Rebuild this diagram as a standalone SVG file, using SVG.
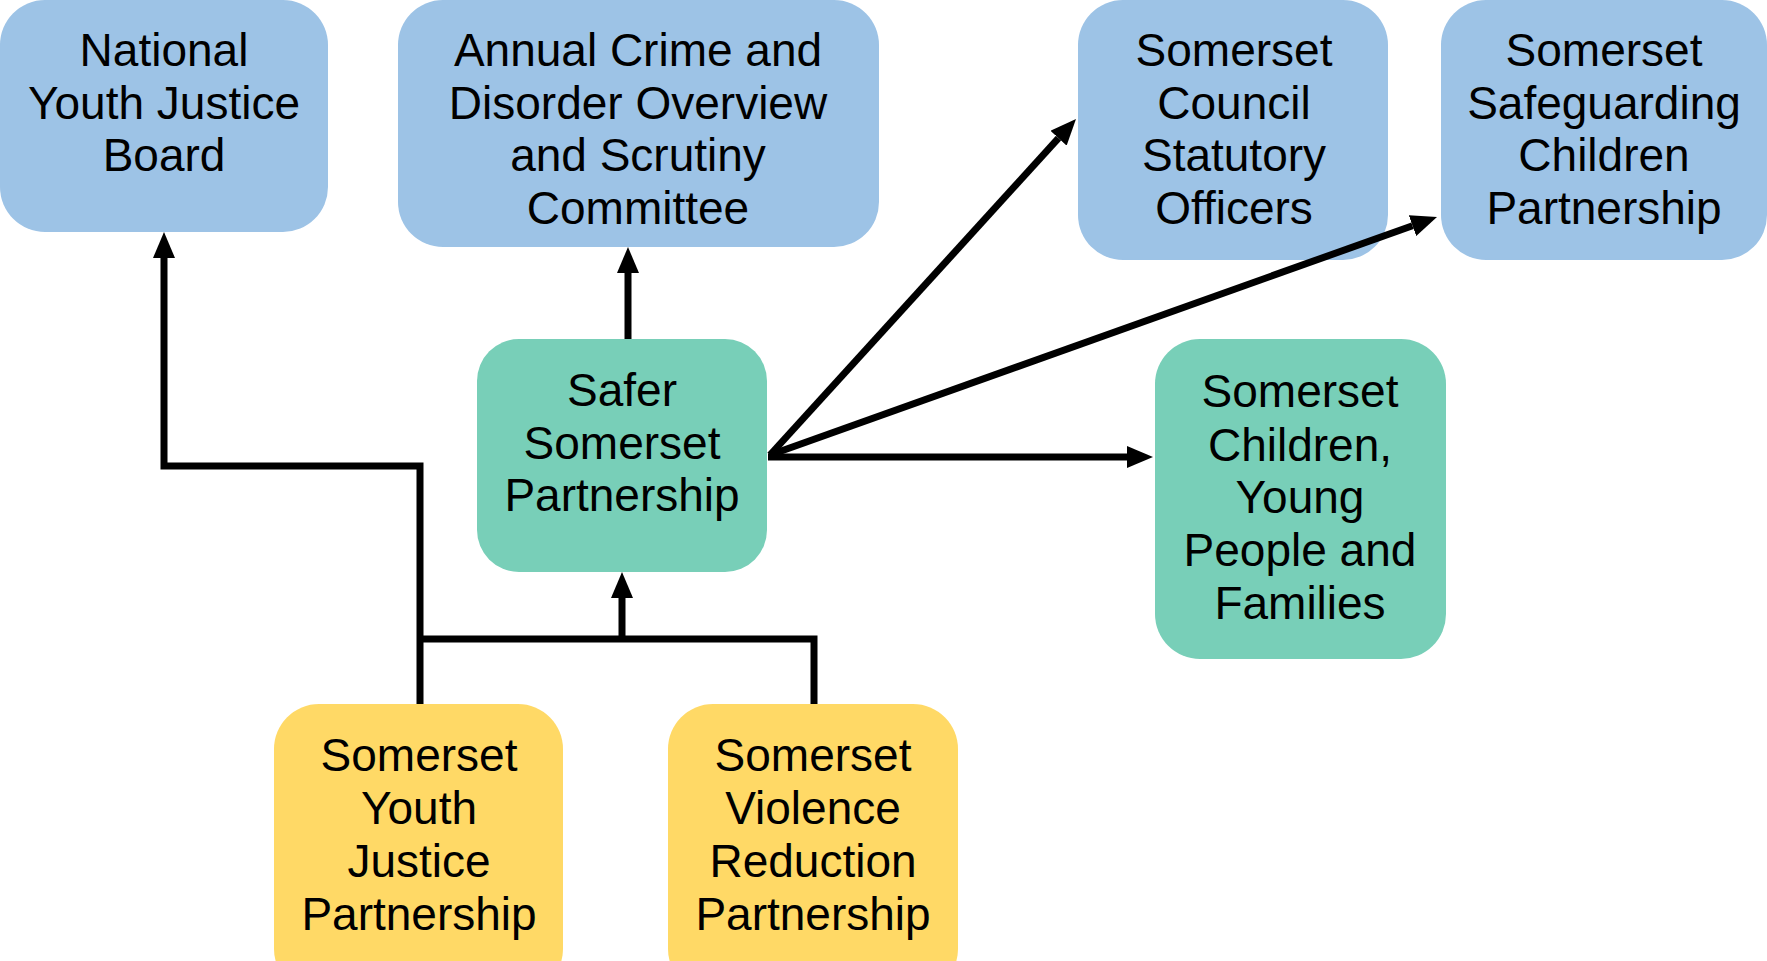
<svg xmlns="http://www.w3.org/2000/svg" width="1767" height="961" viewBox="0 0 1767 961">
<style>
.blue{fill:#9DC3E6}
.green{fill:#78CFB8}
.yellow{fill:#FFD966}
.t{font-family:"Liberation Sans",Arial,sans-serif;font-size:46px;fill:#000;text-anchor:middle}
.c{fill:none;stroke:#000;stroke-width:7;stroke-linejoin:miter}
</style>
<defs>
<marker id="ah" markerUnits="userSpaceOnUse" markerWidth="26" markerHeight="22" refX="0" refY="11" orient="auto" viewBox="0 0 26 22">
<path d="M0,0 L26,11 L0,22 z" fill="#000"/>
</marker>
</defs>
<rect width="1767" height="961" fill="#fff"/>
<g id="national-youth-justice-board">
<rect class="blue" x="0" y="0" width="328" height="232" rx="45"/>
<text class="t" x="164"><tspan x="164" y="66">National</tspan><tspan x="164" y="119">Youth Justice</tspan><tspan x="164" y="171">Board</tspan></text>
</g>
<g id="annual-crime-committee">
<rect class="blue" x="398" y="0" width="481" height="247" rx="45"/>
<text class="t"><tspan x="638" y="66">Annual Crime and</tspan><tspan x="638" y="119">Disorder Overview</tspan><tspan x="638" y="171">and Scrutiny</tspan><tspan x="638" y="224">Committee</tspan></text>
</g>
<g id="somerset-council-statutory-officers">
<rect class="blue" x="1078" y="0" width="310" height="260" rx="45"/>
<text class="t"><tspan x="1234" y="66">Somerset</tspan><tspan x="1234" y="119">Council</tspan><tspan x="1234" y="171">Statutory</tspan><tspan x="1234" y="224">Officers</tspan></text>
</g>
<g id="somerset-safeguarding-children-partnership">
<rect class="blue" x="1441" y="0" width="326" height="260" rx="45"/>
<text class="t"><tspan x="1604" y="66">Somerset</tspan><tspan x="1604" y="119">Safeguarding</tspan><tspan x="1604" y="171">Children</tspan><tspan x="1604" y="224">Partnership</tspan></text>
</g>
<g id="safer-somerset-partnership">
<rect class="green" x="477" y="339" width="290" height="233" rx="42"/>
<text class="t"><tspan x="622" y="406">Safer</tspan><tspan x="622" y="459">Somerset</tspan><tspan x="622" y="511">Partnership</tspan></text>
</g>
<g id="somerset-children-young-people-families">
<rect class="green" x="1155" y="339" width="291" height="320" rx="45"/>
<text class="t"><tspan x="1300" y="407">Somerset</tspan><tspan x="1300" y="461">Children,</tspan><tspan x="1300" y="513">Young</tspan><tspan x="1300" y="566">People and</tspan><tspan x="1300" y="619">Families</tspan></text>
</g>
<g id="somerset-youth-justice-partnership">
<rect class="yellow" x="274" y="704" width="289" height="290" rx="45"/>
<text class="t"><tspan x="419" y="771">Somerset</tspan><tspan x="419" y="824">Youth</tspan><tspan x="419" y="877">Justice</tspan><tspan x="419" y="930">Partnership</tspan></text>
</g>
<g id="somerset-violence-reduction-partnership">
<rect class="yellow" x="668" y="704" width="290" height="290" rx="45"/>
<text class="t"><tspan x="813" y="771">Somerset</tspan><tspan x="813" y="824">Violence</tspan><tspan x="813" y="877">Reduction</tspan><tspan x="813" y="930">Partnership</tspan></text>
</g>
<g id="connectors">
<polyline class="c" points="420,704 420,466 164,466 164,258" marker-end="url(#ah)"/>
<line class="c" x1="628" y1="339" x2="628" y2="273" marker-end="url(#ah)"/>
<polyline class="c" points="420,639 814,639 814,704"/>
<line class="c" x1="622" y1="639" x2="622" y2="598" marker-end="url(#ah)"/>
<line class="c" x1="770" y1="455" x2="1058.5" y2="138.2" marker-end="url(#ah)"/>
<line class="c" x1="770" y1="455" x2="1412.5" y2="225.7" marker-end="url(#ah)"/>
<line class="c" x1="768" y1="457" x2="1127" y2="457" marker-end="url(#ah)"/>
</g>
</svg>
